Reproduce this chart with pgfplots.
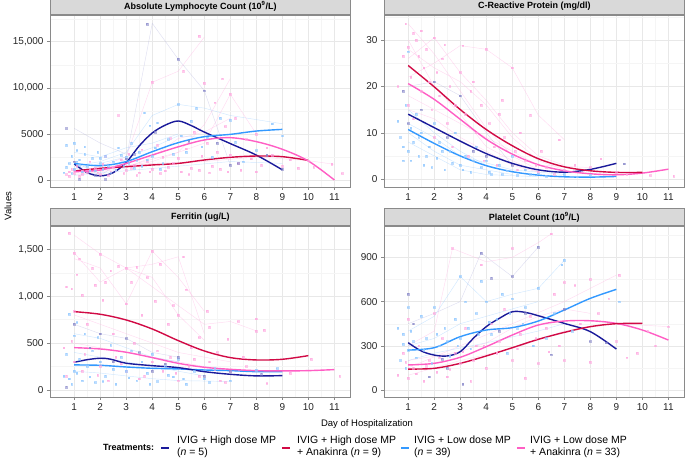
\documentclass[border=0pt]{standalone}
\usepackage{fontspec}
\setmainfont{Liberation Sans}
\usepackage{pgfplots}
\pgfplotsset{compat=1.18}

\definecolor{hdmp}{HTML}{1A1A9A}
\definecolor{hdak}{HTML}{D10A45}
\definecolor{ldmp}{HTML}{3399FF}
\definecolor{ldak}{HTML}{FF5EC4}
\definecolor{stripfill}{HTML}{D9D9D9}
\definecolor{framegray}{HTML}{8A8A8A}

\pgfplotsset{
  panel/.style={
    scale only axis, width=300pt, height=172pt,
    xmin=0.07, xmax=11.6,
    xtick={1,...,11}, minor xtick={1.5,2.5,...,10.5},
    grid=both,
    major grid style={color=black!9, line width=0.5pt},
    minor grid style={color=black!4, line width=0.35pt},
    axis line style={framegray, line width=0.6pt},
    tick style={framegray, line width=0.5pt},
    tick align=outside, tick pos=left,
    major tick length=3pt, minor tick length=0pt,
    tick label style={font=\fontsize{10}{11}\selectfont, text=black!85},
    /pgf/number format/assume math mode=true,
    clip=true,
  },
  pinkpts/.style={only marks, mark=square*, mark size=0.85pt, color=ldak!55, opacity=0.6},
  bluepts/.style={only marks, mark=square*, mark size=0.85pt, color=ldmp!55, opacity=0.6},
  navypts/.style={only marks, mark=square*, mark size=0.85pt, color=hdmp!55, opacity=0.55},
  pinkln/.style={color=ldak!45, line width=0.45pt, opacity=0.5, mark=none},
  blueln/.style={color=ldmp!45, line width=0.45pt, opacity=0.5, mark=none},
  navyln/.style={color=hdmp!35, line width=0.45pt, opacity=0.4, mark=none},
  fit/.style={smooth, tension=0.55, line width=1.4pt, mark=none},
}

\begin{document}
\begin{tikzpicture}[x=1pt, y=1pt]
\path[use as bounding box] (0,0) rectangle (685,460);

% ---------- Absolute Lymphocyte Count
\begin{axis}[panel, name=tl, at={(50pt,273pt)}, anchor=south west,
  ymin=-760, ymax=17900,
  ytick={0,5000,10000,15000}, yticklabels={0,5000,{10,000},{15,000}},
  minor ytick={2500,7500,12500,17500}]
\addplot[navyln] coordinates {(1,2000) (2,500) (3,2300) (4,17000) (5,13100) (6,9700) (7,1600)};
\addplot[blueln] coordinates {(1,1500) (2,2000) (3,3000) (4,7000) (5,8200) (6,7800) (7,7000) (9,6100)};
\addplot[pinkln] coordinates {(1,800) (2,1500) (3,2500) (4,10600) (5,11800) (6,15500)};
\addplot[pinkln] coordinates {(1,900) (3,1500) (5,3000) (6,6000) (7,11000)};
\addplot[pinkln] coordinates {(2,1000) (4,2000) (6,4000) (7,9300) (8,5000)};
\addplot[blueln] coordinates {(1,3000) (2,2500) (3,3500) (4,4000) (5,5000)};
\addplot[pinkln] coordinates {(1,1000) (2,1200) (4,1800) (6,2000) (8,2500) (10,2100) (11,1700)};
\addplot[blueln] coordinates {(1,500) (2,800) (3,1000) (5,1500) (7,2000) (9,1800)};
\addplot[navyln] coordinates {(1,5600) (2,4000) (3,2800)};
\addplot[pinkln] coordinates {(1,600) (2,900) (3,1300) (4,2500) (5,4500) (6,5200) (7,6700)};
\addplot[blueln] coordinates {(1,1200) (2,1800) (3,2500) (4,3500) (5,4800) (6,4600)};
\addplot[pinkpts] coordinates {
 (0.7,600) (0.8,900) (0.9,1200) (1.0,700) (1.1,1500) (1.2,400) (1.3,1000) (1.5,800)
 (1.6,2000) (1.8,1300) (2.0,600) (2.1,1700) (2.2,2600) (2.4,900) (2.5,1400) (2.7,7000)
 (2.8,2200) (3.0,1100) (3.1,2800) (3.3,1600) (3.5,800) (3.6,3300) (3.8,2000) (4.0,1200)
 (4.0,10600) (4.2,3800) (4.4,2500) (4.5,1000) (4.7,4500) (4.8,1800) (5.0,2400) (5.2,11800)
 (5.3,3400) (5.5,1300) (5.6,5200) (5.8,15600) (5.9,2600) (6.0,10500) (6.1,4000) (6.3,1500)
 (6.4,8400) (6.5,3000) (6.7,11000) (6.8,5800) (7.0,9300) (7.0,2700) (7.2,6700) (7.3,1800)
 (7.6,4400) (7.8,2300) (8.0,5000) (8.2,1600) (8.4,3500) (8.6,2700) (9.0,1500) (9.3,2200)
 (9.6,1300) (10.0,2100) (10.2,1400) (10.9,1700) (11.3,700)
 (0.8,400) (1.0,1100) (1.3,600) (1.6,1200) (1.9,800) (2.3,500) (2.6,1000) (2.9,700)
 (3.2,1300) (3.4,500) (3.9,900) (4.3,700) (4.6,1400) (5.1,900) (5.4,600) (5.8,1100)
 (6.2,800) (6.6,1200) (6.9,900) (7.4,1100) (8.0,900)};
\addplot[bluepts] coordinates {
 (0.6,800) (0.7,3800) (0.8,1800) (0.9,2600) (1.0,4000) (1.0,1200) (1.1,3200) (1.2,2200)
 (1.3,900) (1.4,3600) (1.5,1500) (1.7,2400) (1.8,1000) (1.9,3000) (2.0,1800) (2.1,1200)
 (2.2,2600) (2.4,800) (2.5,2000) (2.7,3500) (2.9,1500) (3.0,2500) (3.2,4000) (3.3,1300)
 (3.5,3000) (3.7,7300) (3.8,2200) (3.9,5900) (4.1,3500) (4.2,6200) (4.4,1800) (4.6,4400)
 (4.8,2800) (5.0,8200) (5.1,4800) (5.3,3000) (5.5,6400) (5.7,7800) (5.9,3600) (6.1,4600)
 (6.3,2500) (6.6,6700) (7.0,6500) (7.2,4100) (7.5,2000) (8.0,3200) (8.6,6100) (9.0,4800)
 (0.7,1400) (0.9,700) (1.1,2000) (1.2,1600) (1.4,2800) (1.6,1000) (2.0,2400) (2.3,1500)
 (2.6,1100) (2.8,2700) (3.1,1800) (3.4,2100) (3.6,1500) (4.0,2600) (4.3,1200)};
\addplot[navypts] coordinates {
 (0.7,5600) (1.0,2000) (1.2,100) (1.8,500) (2.2,50) (3.0,2300) (3.3,2800) (3.8,16900)
 (4.1,5200) (5.0,13100) (5.4,4200) (6.0,9700) (6.5,4000) (7.0,1600) (7.3,1800) (8.4,2700) (9.0,1200)};
\addplot[fit, hdmp] coordinates {(1,1750) (1.5,800) (2,450) (2.5,800) (3,1900) (3.5,3700) (4,5100) (4.5,5950) (5,6400) (5.5,5900) (6,5200) (7,3950) (8,2700) (9,1100)};
\addplot[fit, ldmp] coordinates {(1,1800) (2,1550) (3,2000) (4,3070) (5,4050) (6,4700) (7,4950) (8,5310) (9,5490)};
\addplot[fit, hdak] coordinates {(1,975) (2,1265) (3,1445) (4,1630) (5,1800) (6,2170) (7,2460) (8,2600) (9,2530) (10,2130)};
\addplot[fit, ldak] coordinates {(1,900) (2,1080) (3,1800) (4,2710) (5,3600) (6,4340) (7,4590) (8,4160) (9,3330) (10,2060) (11,0)};
\end{axis}

% ---------- C-Reactive Protein
\begin{axis}[panel, name=tr, at={(384pt,273pt)}, anchor=south west,
  ymin=-1.7, ymax=35.4,
  ytick={0,10,20,30}, minor ytick={5,15,25,35}]
\addplot[pinkln] coordinates {(1,22) (2,25) (3,28.8) (4,28) (5,24) (6,13.8) (7,8.5)};
\addplot[pinkln] coordinates {(1,33.5) (2,27) (3,19) (4,11) (5,5) (6,2)};
\addplot[pinkln] coordinates {(1,30) (2,20) (3,14) (4,7) (5,4) (6,1.5)};
\addplot[pinkln] coordinates {(1,26) (2,30.5) (3,23) (4,17) (5,10) (6,5) (7,3)};
\addplot[pinkln] coordinates {(1,18) (2,15) (3,12) (4,9) (5,6) (6,3) (8,2.5)};
\addplot[pinkln] coordinates {(1,28) (2,24) (3,21) (4,16) (5,9) (6,4) (7,2)};
\addplot[pinkln] coordinates {(1,15) (2,13) (3,9) (4,6) (5,3) (6,1.5)};
\addplot[blueln] coordinates {(1,15) (2,10) (3,6) (4,3) (5,1.5) (6,0.8)};
\addplot[blueln] coordinates {(1,10) (2,6) (3,3) (4,2) (5,1)};
\addplot[blueln] coordinates {(1,8) (2,5) (3,2) (4,1) (6,0.5)};
\addplot[blueln] coordinates {(1,12) (2,9) (3,5) (4,3.5) (5,2) (7,1)};
\addplot[navyln] coordinates {(1,20) (2,21) (3,18) (4,10) (5,3)};
\addplot[pinkpts] coordinates {
 (0.6,20) (0.8,26.5) (0.9,33.5) (1.0,28.5) (1.0,16) (1.1,22) (1.2,31.5) (1.3,30)
 (1.4,26.5) (1.5,19) (1.6,24) (1.7,28) (1.8,21) (1.9,15) (2.0,30.5) (2.1,23)
 (2.2,18) (2.3,26) (2.5,12) (2.6,20) (2.8,16) (3.0,23) (3.1,28.8) (3.2,14)
 (3.4,19) (3.6,10) (3.8,16) (4.0,28) (4.1,12) (4.3,7) (4.5,14) (4.7,9)
 (5.0,24) (5.1,6) (5.3,10) (5.5,4) (5.7,13.8) (5.9,3) (6.1,6) (6.3,2.5)
 (6.8,8.5) (7.0,2) (7.4,3) (8.0,2.5) (8.4,4.4) (9.0,1.5) (9.4,1) (10.3,0.8)
 (11.2,0.7) (4.6,17) (3.5,21) (2.4,29) (1.5,32)
 (1.2,13) (2.0,9) (2.7,7) (3.3,5) (3.9,4) (4.4,3) (5.2,2) (6.0,1.5) (6.6,1)};
\addplot[bluepts] coordinates {
 (0.6,12.5) (0.7,9) (0.8,4) (0.9,16) (1.0,27.5) (1.0,6) (1.1,11) (1.2,8)
 (1.3,14) (1.4,5) (1.5,10) (1.6,3) (1.8,7) (2.0,12) (2.1,4.5) (2.2,8)
 (2.4,2) (2.6,6) (2.8,10) (3.0,3) (3.2,5) (3.4,1.5) (3.6,7) (3.8,2.5)
 (4.0,4) (4.2,1) (4.5,3) (4.8,1.8) (5.0,5) (5.2,0.8) (5.5,2) (6.0,1.2)
 (6.3,0.6) (7.0,1) (7.5,0.5) (8.0,0.8)
 (0.8,7) (1.1,4) (1.4,9) (1.7,5) (1.9,2.5) (2.3,6) (2.7,3.5) (3.1,2) (3.5,4) (4.1,1.5) (4.6,1) (5.7,1)};
\addplot[navypts] coordinates {
 (0.8,19) (1.0,12) (1.5,15) (2.0,21) (2.5,9) (3.0,18) (3.5,6) (4.0,5) (5.0,3) (9.3,3.3)};
\addplot[fit, ldmp] coordinates {(1,10.7) (2,7.7) (3,5.0) (4,2.9) (5,1.6) (6,0.86) (7,0.5) (8,0.43) (9,0.57)};
\addplot[fit, hdmp] coordinates {(1,14.0) (2,11.1) (3,8.2) (4,5.5) (5,3.4) (6,2.0) (7,1.5) (8,2.1) (9,3.4)};
\addplot[fit, ldak] coordinates {(1,20.6) (2,17.2) (3,12.9) (4,8.6) (5,5.4) (6,3.1) (7,1.8) (8,1.15) (9,0.93) (10,1.3) (11,2.15)};
\addplot[fit, hdak] coordinates {(1,24.5) (2,19.9) (3,15.0) (4,10.7) (5,7.2) (6,4.4) (7,2.65) (8,1.8) (9,1.45) (10,1.45)};
\end{axis}

% ---------- Ferritin
\begin{axis}[panel, name=bl, at={(50pt,63pt)}, anchor=south west, height=171pt,
  ymin=-75, ymax=1748,
  ytick={0,500,1000,1500}, yticklabels={0,500,{1,000},{1,500}},
  minor ytick={250,750,1250}]
\addplot[pinkln] coordinates {(1,1650) (2,1450) (3,1300) (4,1200) (5,800) (6,530)};
\addplot[pinkln] coordinates {(1,1400) (2,1300) (3,920) (4,1480) (5,1200) (6,840)};
\addplot[pinkln] coordinates {(1,1460) (2,1150) (3,1300) (4,1340) (5,1420) (6,600)};
\addplot[pinkln] coordinates {(3,1300) (4,1100) (5,900) (6,700) (7,730) (8,630)};
\addplot[pinkln] coordinates {(1,800) (2,700) (3,600) (4,500) (5,400) (6,350) (7,300)};
\addplot[pinkln] coordinates {(1,500) (2,450) (3,400) (4,350) (5,300) (6,250) (7,200)};
\addplot[blueln] coordinates {(1,600) (2,550) (3,450) (4,350) (5,300)};
\addplot[blueln] coordinates {(1,400) (2,350) (3,300) (4,250) (5,200) (6,150)};
\addplot[blueln] coordinates {(1,200) (2,180) (3,150) (4,120) (5,100) (7,90)};
\addplot[navyln] coordinates {(1,700) (2,600) (3,550) (4,400) (5,350)};
\addplot[pinkpts] coordinates {
 (0.6,450) (0.7,1100) (0.8,1670) (0.9,1080) (1.0,1460) (1.0,840) (1.1,1230) (1.2,1400)
 (1.3,1010) (1.5,700) (1.7,1300) (1.8,1120) (2.0,1450) (2.1,960) (2.2,1150) (2.4,1270)
 (2.5,600) (2.7,1320) (3.0,920) (3.0,1300) (3.2,1150) (3.4,1310) (3.6,800) (3.8,1200)
 (4.0,1480) (4.1,950) (4.3,1340) (4.6,700) (4.8,900) (5.0,800) (5.2,1420) (5.3,1070)
 (5.5,450) (5.8,560) (6.1,840) (6.2,670) (6.5,400) (6.9,540) (7.3,730) (7.5,350)
 (8.0,760) (8.0,630) (8.3,640) (8.4,70) (9.3,180) (10.1,330) (11.2,150)
 (0.7,150) (1.0,300) (1.3,200) (1.6,450) (2.0,250) (2.3,100) (2.6,350) (3.0,200)
 (3.3,500) (3.7,150) (4.0,300) (4.4,200) (4.7,350) (5.0,100) (5.4,250) (5.8,150)
 (6.2,300) (6.6,100) (7.0,200) (7.6,250)
 (0.9,520) (1.4,380) (1.9,160) (2.8,280) (3.5,120) (4.2,420) (4.9,180) (5.6,330) (6.4,220) (6.8,80)};
\addplot[bluepts] coordinates {
 (0.6,150) (0.7,380) (0.8,810) (0.9,60) (1.0,580) (1.0,200) (1.1,720) (1.2,330)
 (1.3,100) (1.4,600) (1.5,250) (1.7,420) (1.8,80) (1.9,560) (2.0,300) (2.2,150)
 (2.4,480) (2.6,60) (2.8,350) (3.0,200) (3.2,420) (3.4,100) (3.6,300) (3.8,180)
 (4.0,380) (4.2,90) (4.5,250) (4.8,140) (5.0,330) (5.3,60) (5.6,200) (6.0,120)
 (6.4,230) (7.0,100) (8.0,210) (8.8,230)
 (0.8,120) (1.1,180) (1.6,140) (2.1,90) (2.5,220) (3.1,130) (3.9,60) (4.6,160) (5.2,120) (6.2,80)};
\addplot[navypts] coordinates {
 (0.7,30) (1.0,700) (1.6,450) (2.0,600) (2.5,300) (3.0,550) (3.5,400) (4.0,200)
 (4.5,280) (5.0,350) (6.0,150) (7.0,200) (8.2,170)};
\addplot[fit, ldmp] coordinates {(1,267) (2,263) (3,245) (4,231) (5,224) (6,213) (7,206) (8,195) (9,195)};
\addplot[fit, hdmp] coordinates {(1,295) (1.5,323) (2,338) (2.4,328) (3,285) (4,259) (5,238) (6,195) (7,167) (8,150) (9,153)};
\addplot[fit, ldak] coordinates {(1,451) (2,437) (3,402) (4,345) (5,284) (6,242) (7,220) (8,206) (9,203) (10,206) (11,217)};
\addplot[fit, hdak] coordinates {(1,835) (2,807) (3,746) (4,650) (5,526) (6,416) (7,345) (8,320) (9,327) (10,366)};
\end{axis}

% ---------- Platelet Count
\begin{axis}[panel, name=br, at={(384pt,63pt)}, anchor=south west, height=171pt,
  ymin=-47.5, ymax=1113,
  ytick={0,300,600,900}, minor ytick={150,450,750,1050}]
\addplot[pinkln] coordinates {(1,300) (2,400) (2.7,960) (4,870) (5,900) (6,1000) (6.5,1060)};
\addplot[navyln] coordinates {(1,450) (2,520) (3,600) (3.8,930) (5,770) (6,970)};
\addplot[blueln] coordinates {(1,400) (2,500) (3,770) (4,600) (5,650) (6,690) (7,880)};
\addplot[pinkln] coordinates {(1,150) (3,300) (5,450) (7,600) (9,780)};
\addplot[blueln] coordinates {(1,300) (2,350) (3,450) (4,500) (5,550) (6,600)};
\addplot[pinkln] coordinates {(1,100) (2,150) (3,200) (5,280) (7,400) (9,450) (11,430)};
\addplot[blueln] coordinates {(1,200) (2,250) (4,320) (6,400) (7,450)};
\addplot[pinkln] coordinates {(1,200) (2,230) (3,260) (4,320) (5,420) (6,500) (7,550) (8,520)};
\addplot[pinkpts] coordinates {
 (0.6,100) (0.8,250) (1.0,480) (1.0,80) (1.2,150) (1.4,300) (1.6,60) (1.8,200)
 (2.0,520) (2.1,120) (2.3,350) (2.5,90) (2.7,960) (2.8,250) (3.0,180) (3.2,420)
 (3.4,60) (3.6,300) (3.8,850) (4.0,150) (4.2,450) (4.4,250) (4.7,550) (5.0,960)
 (5.0,200) (5.3,380) (5.5,80) (5.7,500) (6.0,180) (6.3,420) (6.5,1060) (6.6,650)
 (6.8,300) (7.0,730) (7.0,200) (7.4,710) (7.6,450) (8.0,750) (8.0,190) (8.3,520)
 (8.7,620) (9.0,330) (9.1,780) (9.4,220) (9.8,250) (10.2,400) (10.5,300) (11.0,430)
 (0.9,190) (1.3,110) (1.7,160) (2.2,220) (2.6,140) (3.1,260) (3.5,200) (3.9,300) (4.5,330) (5.2,280) (5.9,350) (6.4,260)};
\addplot[bluepts] coordinates {
 (0.6,420) (0.7,200) (0.8,310) (0.9,150) (1.0,560) (1.0,270) (1.1,400) (1.3,220)
 (1.5,500) (1.7,350) (1.9,180) (2.0,560) (2.2,300) (2.4,420) (2.6,230) (2.8,480)
 (3.0,770) (3.0,350) (3.2,600) (3.4,280) (3.6,520) (3.8,740) (4.0,600) (4.2,380)
 (4.4,480) (4.6,650) (4.8,250) (5.0,620) (5.2,420) (5.5,560) (5.8,300) (6.0,690)
 (6.3,350) (6.6,520) (6.9,850) (7.0,880) (7.3,400) (9.1,600)
 (0.8,380) (1.2,330) (1.6,270) (2.1,380) (2.5,330) (2.9,300) (3.3,420) (3.7,380) (4.1,460) (4.9,520) (5.4,450)};
\addplot[navypts] coordinates {
 (1.0,650) (1.2,450) (1.8,90) (2.3,210) (2.5,150) (3.1,40) (3.8,930) (4.2,760)
 (4.5,400) (5.0,770) (5.5,520) (6.0,970) (6.5,240) (7.0,550) (8.0,330) (8.6,320)};
\addplot[fit, hdmp] coordinates {(1,321) (1.5,265) (2,237) (2.5,231) (3,260) (3.5,350) (4,430) (4.5,486) (5,531) (5.5,527) (6,504) (7,452) (8,396) (9,278)};
\addplot[fit, ldmp] coordinates {(1,271) (2,287) (3,362) (4,407) (5,423) (6,468) (7,543) (8,622) (9,683)};
\addplot[fit, ldak] coordinates {(1,170) (2,181) (3,222) (4,294) (5,373) (6,441) (7,468) (8,470) (9,452) (10,407) (11,339)};
\addplot[fit, hdak] coordinates {(1,142) (2,147) (3,181) (4,231) (5,287) (6,344) (7,391) (8,430) (9,450) (10,452)};
\end{axis}

% ---------- facet strips
\tikzset{strip/.style={draw=framegray, line width=0.6pt, fill=stripfill, minimum width=300pt, minimum height=17pt, inner sep=0pt, anchor=south west, font=\bfseries\fontsize{9}{10}\selectfont}}
\node[strip] at (tl.north west) {Absolute Lymphocyte Count (10\textsuperscript{9}/L)};
\node[strip] at (tr.north west) {C-Reactive Protein (mg/dl)};
\node[strip] at (bl.north west) {Ferritin (ug/L)};
\node[strip] at (br.north west) {Platelet Count (10\textsuperscript{9}/L)};

% ---------- shared axis titles
\node[rotate=90, font=\fontsize{9.5}{10}\selectfont] at (8,254) {Values};
\node[font=\fontsize{9.5}{10}\selectfont] at (367,36) {Day of Hospitalization};

% ---------- legend
\node[anchor=west, font=\bfseries\fontsize{9}{10}\selectfont, inner sep=0pt] at (103,13) {Treatments:};
\draw[hdmp, line width=1.4pt] (161,12) -- (169,12);
\draw[hdak, line width=1.4pt] (282,12) -- (290,12);
\draw[ldmp, line width=1.4pt] (401,12) -- (409,12);
\draw[ldak, line width=1.4pt] (517,12) -- (525,12);
\tikzset{legtxt/.style={anchor=west, align=left, inner sep=0pt, font=\fontsize{10.5}{12.5}\selectfont}}
\node[legtxt] at (177,13) {IVIG + High dose MP\\(\textit{n} = 5)};
\node[legtxt] at (297,13) {IVIG + High dose MP\\+ Anakinra (\textit{n} = 9)};
\node[legtxt] at (414,13) {IVIG + Low dose MP\\(\textit{n} = 39)};
\node[legtxt] at (530,13) {IVIG + Low dose MP\\+ Anakinra (\textit{n} = 33)};
\end{tikzpicture}
\end{document}
